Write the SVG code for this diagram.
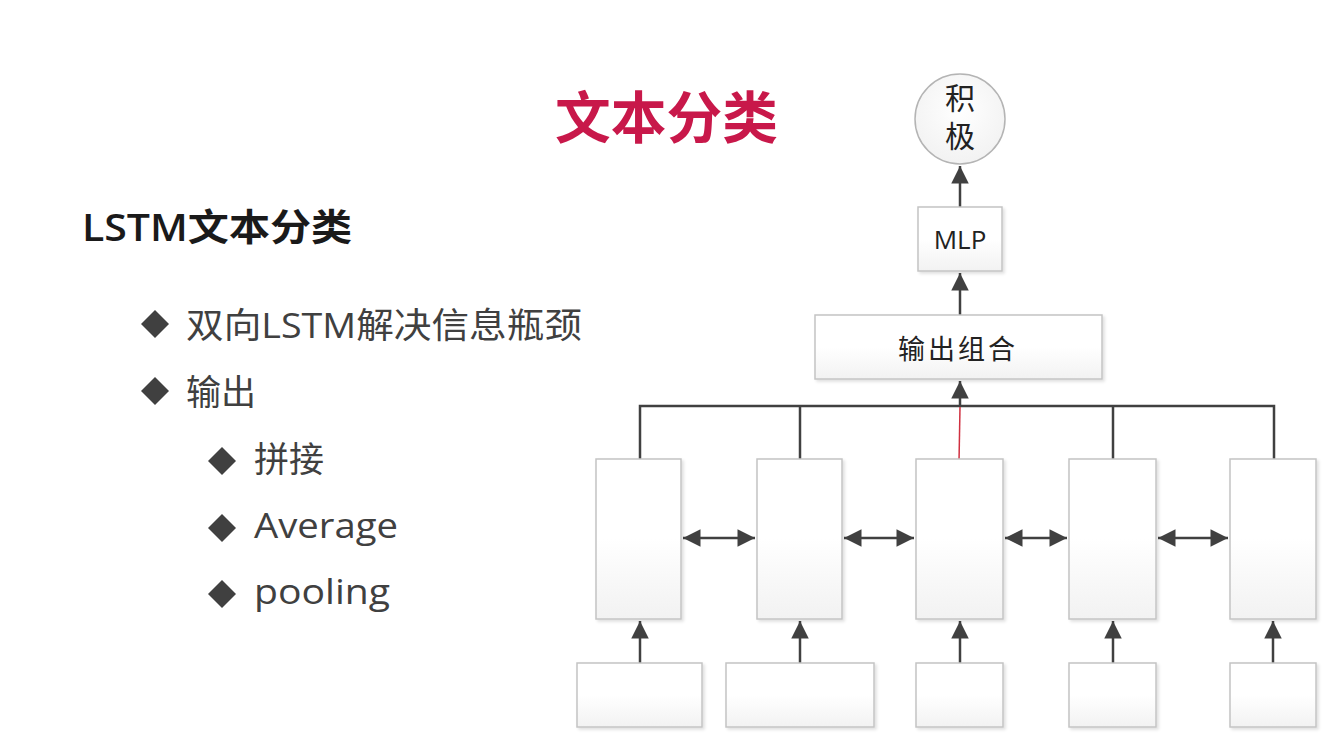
<svg xmlns="http://www.w3.org/2000/svg" width="1336" height="752" viewBox="0 0 1336 752">
<defs>
<linearGradient id="boxfill" x1="0" y1="0" x2="0" y2="1">
<stop offset="0" stop-color="#ffffff"/>
<stop offset="0.5" stop-color="#ffffff"/>
<stop offset="1" stop-color="#f2f2f2"/>
</linearGradient>
<radialGradient id="circfill" cx="0.5" cy="0.4" r="0.6">
<stop offset="0" stop-color="#ffffff"/>
<stop offset="1" stop-color="#f2f2f2"/>
</radialGradient>
<marker id="ah" viewBox="0 0 10 10" refX="10" refY="5" markerWidth="7.5" markerHeight="7" markerUnits="strokeWidth" orient="auto-start-reverse">
<path d="M0,0 L10,5 L0,10 z" fill="#404040"/>
</marker>
<filter id="sh" x="-10%" y="-10%" width="130%" height="130%">
<feDropShadow dx="2" dy="2" stdDeviation="1.5" flood-color="#000" flood-opacity="0.12"/>
</filter>
</defs>
<style>
.box{fill:url(#boxfill);stroke:#c4c4c4;stroke-width:1.5;filter:url(#sh)}
.ln{fill:none;stroke:#404040;stroke-width:2.5}
.arr{fill:none;stroke:#404040;stroke-width:2.5;marker-end:url(#ah)}
.darr{fill:none;stroke:#404040;stroke-width:2.5;marker-start:url(#ah);marker-end:url(#ah)}
.t{font-family:"Open Sans","Noto Sans CJK SC",sans-serif}
.bul{fill:#404040}
</style>
<rect width="1336" height="752" fill="#ffffff"/>

<g id="title">
<text class="t" x="555" y="138" font-size="56" font-weight="bold" fill="#c8184a" textLength="223" lengthAdjust="spacingAndGlyphs">文本分类</text>
</g>
<g id="heading">
<text class="t" x="82" y="241" font-size="37" font-weight="600" fill="#1a1a1a" textLength="270" lengthAdjust="spacingAndGlyphs">LSTM文本分类</text>
</g>
<g id="bullets">
<path class="bul" d="M155,310 L169,324 L155,338 L141,324 z"/>
<text class="t" x="186" y="338" font-size="35" fill="#404040" textLength="396" lengthAdjust="spacingAndGlyphs">双向LSTM解决信息瓶颈</text>
<path class="bul" d="M155,377 L169,391 L155,405 L141,391 z"/>
<text class="t" x="186" y="405" font-size="35" fill="#404040">输出</text>
<path class="bul" d="M222,447 L236,461 L222,475 L208,461 z"/>
<text class="t" x="254" y="472" font-size="35" fill="#404040">拼接</text>
<path class="bul" d="M222,514 L236,528 L222,542 L208,528 z"/>
<text class="t" x="254" y="538" font-size="35" fill="#404040" textLength="144" lengthAdjust="spacingAndGlyphs">Average</text>
<path class="bul" d="M222,580 L236,594 L222,608 L208,594 z"/>
<text class="t" x="254" y="604" font-size="35" fill="#404040" textLength="136" lengthAdjust="spacingAndGlyphs">pooling</text>
</g>

<g id="connectors">
<path class="arr" d="M960,208 L960,166"/>
<path class="arr" d="M960,315 L960,273"/>
<path class="arr" d="M960,406 L960,381"/>
<path class="ln" d="M640,459 L640,406 L1274,406 L1274,459"/>
<path class="ln" d="M800,459 L800,406"/>
<path class="ln" d="M1113,459 L1113,406"/>
<path fill="none" stroke="#d03040" stroke-width="1.5" d="M960,407 L959,462"/>
<path class="darr" d="M683,538 L755,538"/>
<path class="darr" d="M844,538 L914,538"/>
<path class="darr" d="M1005,538 L1067,538"/>
<path class="darr" d="M1158,538 L1228,538"/>
<path class="arr" d="M640,663 L640,621"/>
<path class="arr" d="M800,663 L800,621"/>
<path class="arr" d="M960,663 L960,621"/>
<path class="arr" d="M1113,663 L1113,621"/>
<path class="arr" d="M1273,663 L1273,621"/>
</g>

<g id="node-positive">
<circle cx="960" cy="119" r="45" fill="url(#circfill)" stroke="#b4b4b4" stroke-width="1.5"/>
<text class="t" x="960" y="109" font-size="30" fill="#222" text-anchor="middle">积</text>
<text class="t" x="960" y="147" font-size="30" fill="#222" text-anchor="middle">极</text>
</g>
<g id="node-mlp">
<rect class="box" x="918" y="207" width="84" height="64"/>
<text class="t" x="960" y="249" font-size="26" fill="#222" text-anchor="middle">MLP</text>
</g>
<g id="node-combine">
<rect class="box" x="815" y="315" width="287" height="64"/>
<text class="t" x="958" y="359" font-size="27" fill="#222" text-anchor="middle" letter-spacing="3">输出组合</text>
</g>

<g id="lstm-1"><rect class="box" x="596" y="459" width="85" height="160"/></g>
<g id="lstm-2"><rect class="box" x="757" y="459" width="85" height="160"/></g>
<g id="lstm-3"><rect class="box" x="916" y="459" width="87" height="160"/></g>
<g id="lstm-4"><rect class="box" x="1069" y="459" width="87" height="160"/></g>
<g id="lstm-5"><rect class="box" x="1230" y="459" width="86" height="160"/></g>

<g id="input-1"><rect class="box" x="577" y="663" width="125" height="64"/></g>
<g id="input-2"><rect class="box" x="726" y="663" width="148" height="64"/></g>
<g id="input-3"><rect class="box" x="916" y="663" width="87" height="64"/></g>
<g id="input-4"><rect class="box" x="1069" y="663" width="87" height="64"/></g>
<g id="input-5"><rect class="box" x="1230" y="663" width="86" height="64"/></g>
</svg>
